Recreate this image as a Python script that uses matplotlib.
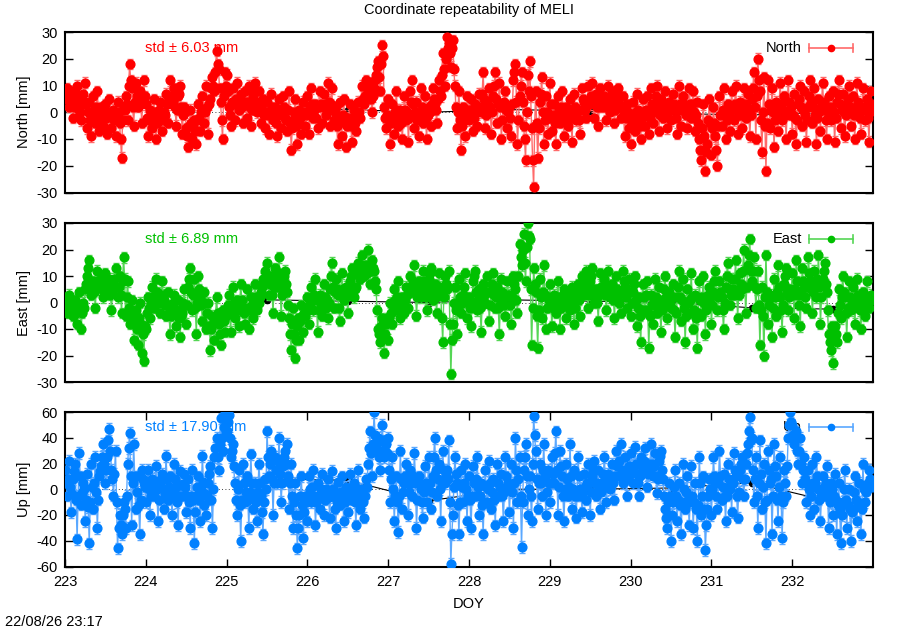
import numpy as np
import matplotlib
matplotlib.use("Agg")
import matplotlib.pyplot as plt

plt.rcParams['font.family'] = ['Liberation Sans', 'DejaVu Sans']

title = "Coordinate repeatability of MELI"
timestamp = "22/08/26 23:17"
doy_start = 223.0
epoch_step = 0.0125  # days between epochs (18 min)
doy_ticks = [223, 224, 225, 226, 227, 228, 229, 230, 231, 232]

north_mm = [
    # 223
    5, 7, 9, 5, 2, 4, 8, 3, -2, 2, 6, 7, 10, 5, 1, 0, -3, 3, 7, 4,
    11, 3, -6, 0, 4, -3, -9, -1, 6, 1, -4, 2, 8, 0, -7, -2, 2, -1, -5, 0,
    3, -2, -8, -1, 5, 0, -6, -2, 1, -3, -9, -1, 4, 0, -4, -10, -17, -3, 2, 1,
    6, 3, -3, 10, 18, 12, 9, 2, -5, 4, 11, 6, 2, 5, 8, 3, -4, 5, 12, 6,
    # 224
    3, -2, -9, -3, 1, -2, -6, 0, 5, -3, -10, -4, -2, 1, 4, -2, -7, -3, 0, -1,
    7, 3, -4, 5, 12, 6, 3, 4, 9, 2, -5, 1, 6, 7, 10, 2, -8, -1, 2, 0,
    -6, -9, -13, -5, 1, -4, -10, -5, -3, -7, -12, -3, 3, -2, -7, 0, 6, 1, -4, 0,
    10, 2, -8, 3, 5, 9, 13, 10, 8, 15, 23, 18, 16, 9, 4, -3, -10, 6, 15, 10,
    # 225
    14, 8, 2, -1, -5, 4, 9, 3, -3, 5, 11, 4, 1, 5, 7, 2, -4, 3, 8, 4,
    -2, 4, 10, 2, -5, 1, 6, 8, 11, 4, 0, 3, 8, 2, -4, 1, 5, -1, -6, 0,
    4, -1, -8, 0, 7, 2, -3, 0, 2, -4, -9, -1, 5, 0, -6, 1, 6, 2, -2, -3,
    -7, 1, 8, -4, -14, -6, -3, 0, 5, -5, -12, -4, 1, -2, -8, -1, 4, 0, -5, -1,
    # 226
    6, 0, -8, 2, 9, 3, -2, 1, 3, -2, -6, 2, 8, 3, -4, 2, 7, 3, -1, 1,
    11, 4, -5, 3, 9, 2, -3, 0, 2, -5, -12, -3, 4, -2, -9, -1, 5, -4, -13, -5,
    -4, -2, 3, -5, -11, -3, 1, -4, -7, -1, 4, 0, -2, 4, 10, 5, 3, 6, 12, 7,
    6, 8, 11, 5, 0, 6, 9, 12, 14, 17, 19, 13, 8, 18, 25, 21, 2, -2, -6, -1,
    # 227
    5, -3, -12, -4, 3, -2, -8, 0, 8, 1, -5, -1, 1, -4, -10, -2, 6, 1, -3, 0,
    -11, -2, 8, 4, 12, 3, -6, 0, 4, -3, -9, -1, 9, 2, -4, 1, 6, -2, -10, -1,
    2, 0, -5, 3, 9, 5, 3, 1, -4, 5, 12, 8, 6, 14, 22, 16, 10, 20, 28, 24,
    26, 22, 17, 24, 27, 16, 10, 2, -6, 0, 8, -3, -14, -5, 2, -3, -9, -1, 6, 1,
    # 228
    -3, 1, 5, -1, -7, -2, 3, 0, -5, 1, 7, 2, 0, 7, 15, 5, -6, -1, 4, 1,
    9, 2, -8, 0, 6, 10, 15, 5, -4, 3, 11, 2, -10, -3, 3, 4, 8, 1, -6, 0,
    2, -2, -9, 3, 12, 15, 18, 4, -12, -3, 6, 10, 15, 4, -5, -10, -18, 0, 14, 8,
    19, 6, -6, -18, -28, -5, 8, -4, -17, -6, 4, 7, 13, 0, -12, -3, 6, 0, -8, -2,
    # 229
    11, 3, -7, -1, 3, -4, -12, -2, 6, 1, -4, 2, 8, 0, -9, -2, 2, -1, -5, 0,
    5, -2, -11, -1, 7, 2, -3, 0, 1, -3, -8, 1, 9, 5, 4, 1, -2, 3, 10, 4,
    3, 6, 11, 4, -2, 3, 7, 2, -5, 2, 9, 5, 2, 4, 6, 2, -3, 3, 10, 5,
    0, 3, 8, 2, -4, 1, 5, 6, 9, 3, -2, 2, 6, 0, -9, -2, 3, 0, -6, -2,
    # 230
    -12, -4, 4, -2, -7, 0, 7, 1, -3, -5, -10, -2, 5, 0, -5, 1, 6, -1, -8, -2,
    9, 3, -4, 0, 3, 6, 10, 2, -7, -1, 5, 2, -2, 3, 8, 1, -6, 0, 4, 1,
    -3, 2, 7, 3, 1, -2, -8, 1, 10, 3, -5, 1, 6, 3, 2, -1, -6, 2, 9, 3,
    -2, 3, 8, 0, -7, -1, 4, -4, -10, -14, -18, -6, 3, -9, -22, -15, -12, -3, 5, -4,
    # 231
    -16, -6, 2, -4, -9, -14, -20, -5, 6, -1, -5, 1, 9, 0, -10, -3, 3, -1, -7, -2,
    8, 2, -3, 3, 10, 1, -8, -1, 4, -1, -6, 2, 9, 3, -2, 2, 7, 0, -9, -1,
    5, 9, 15, 2, -10, 6, 20, 12, 8, -3, -15, 0, 13, -5, -22, -4, 12, 3, -6, 1,
    9, 0, -13, -3, 4, -1, -7, 2, 11, 3, -3, 1, 6, -1, -10, 0, 12, 4, -1, 2,
    # 232
    -8, -1, 7, -2, -12, -3, 3, 5, 10, 2, -5, 1, 8, -1, -11, -3, 2, 6, 12, 4,
    -4, 2, 9, -1, -12, -2, 5, 0, -7, 2, 11, 4, 1, -3, -10, 0, 6, 2, -3, 1,
    8, 0, -11, -2, 4, 7, 12, 3, -6, 1, 7, 0, -9, -1, 3, 5, 10, 2, -5, 1,
    6, -1, -10, 2, 11, 4, 1, -2, -8, 1, 9, 2, -3, 1, 5, -2, -11, 0, 8, 3,
]

east_mm = [
    # 223
    2, -1, -4, 0, 3, 0, -2, -3, -5, -2, 1, -4, -8, -1, 4, -3, -10, -4, 0, -2,
    5, 7, 10, 13, 16, 8, 3, 5, 8, 4, -2, 5, 12, 8, 6, 7, 9, 5, 2, 6,
    11, 7, 4, 6, 9, 3, -3, 4, 7, 9, 13, 6, 2, 6, 10, 3, -4, 8, 17, 9,
    -5, 2, 8, -2, -8, -4, 1, -6, -14, -7, -3, -10, -16, -6, 0, -8, -19, -12, -22, -9,
    # 224
    -10, -4, 2, -2, -6, 0, 6, 2, -2, 3, 9, 4, 3, 0, -4, 2, 8, 3, 1, -1,
    -5, -1, 4, -4, -12, -5, -2, 0, 3, -4, -9, -3, 1, -6, -13, -5, -4, 0, 5, -1,
    -8, -1, 6, 9, 13, 4, -3, 3, 9, -2, -12, 0, 10, 5, 2, -1, -7, 0, 4, 0,
    -10, -4, 0, -9, -18, -10, -5, -8, -14, -6, 2, -4, -8, -12, -16, -7, -3, -7, -11, -5,
    # 225
    -4, -1, 3, -4, -11, -2, 6, 0, -6, -2, 1, -3, -9, -1, 7, 1, -2, -4, -8, -3,
    5, -2, -10, -3, 2, -1, -6, 1, 7, 2, -3, 0, 0, 2, 4, 6, 9, 7, 12, 8,
    15, 9, 3, 7, 10, 3, -4, 6, 13, 9, 6, 11, 17, 6, -5, 3, 8, 10, 12, 7,
    4, -1, -6, -12, -18, -8, -2, -12, -21, -14, -9, -6, -14, -7, -1, -5, -11, -4, -5, -2,
    # 226
    2, -3, -8, 0, 6, 2, -3, 3, 9, 1, -11, -3, 3, 0, -5, 1, 7, 2, -2, 1,
    -6, 0, 5, 10, 15, 6, -2, 4, 9, 5, 3, -2, -7, 3, 11, 5, 1, 4, 6, 3,
    -4, 3, 8, 10, 13, 6, 2, 5, 6, 11, 15, 12, 9, 14, 18, 12, 10, 12, 14, 11,
    20, 13, 7, 12, 16, 13, 12, 8, 5, -3, -10, -12, -15, -9, -6, -13, -19, -12, -8, -6,
    # 227
    -14, -6, 0, -4, -8, -1, 5, 1, -3, 2, 8, 1, -6, -1, 2, 0, -4, 1, 6, 3,
    -2, 4, 10, 6, 4, 8, 14, 5, -5, 2, 8, 4, 2, 7, 12, 8, 6, 2, -3, 3,
    9, 11, 13, 6, 1, 4, 7, 2, -4, 5, 11, 6, 3, -6, -15, 2, 10, 7, 5, 6,
    12, -8, -27, -14, -8, 0, 6, -3, -12, -2, 9, 2, -4, 0, 3, 6, 11, 2, -6, 0,
    # 228
    2, -2, -9, 0, 8, 10, 12, 4, -3, 1, 5, -2, -11, -1, 7, 3, 0, 4, 10, 4,
    -7, -1, 4, 7, 11, 3, -2, 2, 6, -2, -12, -1, 9, 4, 1, -1, -5, 2, 8, 3,
    3, -1, -8, 2, 10, 7, 5, 1, -4, 10, 22, 17, 14, 20, 26, 15, 8, 21, 30, 25,
    24, 5, -16, -2, 13, 7, 4, -5, -17, -3, 9, 2, -6, 4, 14, 3, -10, -2, 2, 1,
    # 229
    7, 0, -9, -2, 3, 0, -4, 2, 8, 1, -10, -2, 1, 3, 5, 0, -6, -1, 4, 1,
    -3, 1, 6, 0, -8, -2, 2, 4, 7, 1, -5, 3, 10, 5, 3, 7, 12, 4, -2, 3,
    8, 10, 13, 5, 0, 3, 5, 0, -7, 3, 11, 6, 4, 6, 9, 3, -3, 5, 12, 6,
    2, 4, 7, 1, -6, 3, 10, 5, 3, 0, -4, 4, 12, 8, 6, 2, -2, 4, 9, 4,
    # 230
    -5, 0, 4, 7, 10, 1, -9, -2, 2, -5, -15, -3, 7, 2, -3, 3, 8, -4, -17, -5,
    3, -1, -8, 1, 9, 2, -4, 1, 6, -2, -11, -3, 1, 5, 10, 2, -6, -1, 4, 0,
    -2, 2, 7, -3, -13, -4, 2, 6, 12, 2, -7, 1, 9, -2, -15, -5, 5, 0, -4, 1,
    11, 2, -10, -3, 3, -6, -17, -4, 8, 1, -5, 2, 10, 0, -12, -3, 1, 3, 6, 2,
    # 231
    -8, -1, 4, 8, 12, 3, -3, 2, 8, 4, 2, -3, -10, 0, 6, 10, 15, 5, -1, 3,
    9, 5, 3, 9, 16, 4, -6, 3, 11, 7, 5, 12, 20, 6, -4, 6, 14, 18, 24, 12,
    8, 12, 17, 6, -2, 5, 12, -1, -16, -3, 6, -5, -20, 2, 18, 4, -8, -1, 3, 2,
    -13, -2, 9, 2, -5, 4, 14, 6, 2, -3, -11, -1, 7, 10, 13, 4, -3, 2, 5, 4,
    # 232
    11, 3, -6, 5, 16, 8, 3, -1, -9, 4, 13, 8, 6, 2, -2, 6, 17, 11, 8, 5,
    -4, 4, 12, 6, 2, 9, 18, 6, -8, 2, 9, 12, 15, 7, 4, -3, -12, -15, -18, -9,
    -23, -14, -9, -12, -15, -4, 5, -1, -6, 2, 10, 4, 2, -4, -13, -2, 8, 2, -3, 0,
    6, 0, -8, -1, 9, 3, 1, -3, -10, -2, 4, 0, -5, 1, 8, 2, -2, 1, 3, 1,
]

up_mm = [
    # 223
    15, 5, -5, 8, 22, 2, -18, -4, 8, 14, 20, -8, -39, -5, 28, 10, -12, -3, 5, 0,
    -25, -8, 12, -14, -42, -10, 20, 2, -15, 5, 25, -2, -30, -8, 10, 14, 18, 25, 35, 20,
    5, 15, 25, 38, 47, 30, 15, 8, -5, 12, 30, -10, -46, -30, -20, -28, -35, -20, -10, -15,
    -30, -5, 20, 32, 44, 10, -28, 5, 35, 10, -15, -2, 10, -12, -35, -8, 15, 8, 5, 2,
    # 224
    -10, 2, 15, 0, -20, -5, 8, 2, -5, 5, 18, 0, -25, -8, 5, 8, 12, 0, -15, -3,
    26, 8, -8, 2, 10, -5, -20, 0, 20, 8, 2, -10, -28, -5, 14, 3, -5, 4, 12, 2,
    -18, -5, 8, -10, -30, -5, 15, -8, -42, -18, -5, 2, 10, -8, -25, 0, 26, 6, -12, -4,
    -20, -5, 5, 12, 18, -8, -30, 0, 25, 32, 40, 25, 15, 35, 55, 40, 30, 48, 60, 45,
    # 225
    45, 52, 58, 40, 25, 30, 35, 18, 5, -8, -20, 0, 15, -12, -40, -8, 20, 5, -10, -2,
    10, -8, -30, -2, 27, 5, -15, -4, 5, -10, -25, -2, 20, 5, -5, -18, -35, -10, 8, 0,
    45, 25, 10, 20, 30, 8, -20, 5, 25, 15, 5, 22, 40, 12, -10, 5, 18, 25, 30, 20,
    35, 10, -15, 5, 20, -5, -30, -10, 5, -20, -46, -30, -20, -5, 10, -12, -38, -18, -5, -10,
    # 226
    -25, -8, 10, 0, -10, 2, 15, -5, -28, -10, 5, -5, -15, 0, 12, -2, -20, -8, 0, -5,
    8, -6, -22, -5, 14, 0, -5, -15, -30, -10, 6, -3, -12, -2, 10, -8, -25, -10, 2, -5,
    -18, -5, 12, 0, -8, -2, 5, -10, -28, -8, 15, 0, -15, -6, 0, -10, -22, -5, 8, 2,
    20, 32, 45, 28, 10, 35, 60, 42, 30, 36, 40, 25, 15, 30, 50, 38, 25, 30, 35, 28,
    # 227
    40, 15, -10, 8, 25, 0, -25, -5, 10, -10, -33, -5, 30, 8, -15, -2, 5, 10, 20, 5,
    -20, -2, 15, 5, -5, 10, 28, 5, -30, -8, 10, 4, 0, -10, -22, -2, 18, 5, -10, 0,
    25, 5, -15, -2, 10, 25, 40, 15, -5, 8, 20, 0, -25, 5, 30, 15, 5, 10, 15, 8,
    38, -10, -58, -35, -20, 2, 25, 12, 5, -12, -35, -10, 15, 2, -10, 5, 20, 0, -25, -5,
    # 228
    10, -8, -30, -5, 18, 5, -5, 8, 25, 2, -20, -5, 5, -12, -35, -10, 15, 2, -10, 0,
    22, 5, -15, -2, 8, -8, -28, -5, 20, 5, -5, 2, 12, -5, -25, -2, 25, 10, 0, 5,
    -18, 0, 20, -2, -30, 5, 40, 15, -10, 8, 25, -5, -45, -10, 15, 25, 35, 10, -20, 0,
    10, -5, -25, 20, 57, 42, 30, 8, -15, 5, 20, 5, -5, 15, 35, 10, -20, -2, 15, 5,
    # 229
    -10, 5, 25, 12, 5, 28, 45, 15, -20, 2, 30, 18, 10, -5, -25, 0, 20, 8, -5, 2,
    35, 10, -15, 0, 15, -5, -22, -5, 25, 10, 0, -5, -18, -2, 12, 2, -8, 5, 20, 5,
    -20, -2, 10, 15, 22, 5, -5, 5, 15, 0, -15, -2, 5, 12, 25, 8, -10, 2, 12, 8,
    0, 8, 20, 5, -8, 10, 30, 18, 10, 22, 35, 15, 5, 12, 25, 10, -5, 8, 18, 12,
    # 230
    28, 15, 5, 18, 33, 20, 12, 5, -5, 10, 25, 18, 15, 22, 32, 15, 2, 12, 20, 14,
    35, 20, 10, 18, 28, 10, -3, 8, 22, 26, 30, 15, 8, -5, -15, -22, -30, -10, 5, -5,
    -40, -20, -10, 2, 15, -5, -25, -8, 5, -12, -35, -10, 20, 0, -15, -2, 10, -8, -28, -10,
    18, -5, -30, -10, 5, -15, -40, -12, 25, 5, -20, -5, 10, -15, -47, -28, -15, -5, 8, 0,
    # 231
    -20, 0, 25, 10, 5, -5, -15, 5, 30, 10, -8, 2, 12, -5, -25, -5, 20, 8, 0, 5,
    -18, 5, 28, 15, 10, -5, -22, -2, 15, 20, 25, 8, -5, 8, 20, 28, 35, 45, 56, 38,
    40, 15, -10, 8, 25, -5, -30, 5, 38, 12, -15, 2, 20, -10, -42, -8, 30, 15, 5, 8,
    -35, -5, 35, 18, 10, -8, -25, 2, 25, -5, -38, -10, 15, 5, -5, 18, 40, 50, 60, 52,
    # 232
    50, 42, 35, 40, 45, 30, 20, 30, 40, 20, 5, 15, 25, 8, -10, 5, 15, 0, -20, -5,
    20, 5, -15, 5, 25, 10, 0, -8, -25, -5, 10, 2, -5, 5, 18, 0, -30, -10, 5, 0,
    -20, -5, 12, -8, -35, -12, 5, -15, -42, -20, -10, 0, 15, -8, -30, -12, 0, -15, -40, -18,
    -15, -2, 10, -8, -25, -10, 5, -12, -35, -15, 20, 0, -10, -2, 0, 5, 15, 8, 5, 2,
]

north_sigma = 2.0
east_sigma = 2.0
up_sigma = 4.5

daily_doy = [225.5, 226.5, 227.5, 228.5, 229.5, 230.5, 231.5, 232.5]
north_daily = [0.5, 1.0, 0.0, 1.0, 0.5, -0.5, -1.0, 0.0]
east_daily = [1.0, 0.5, 0.0, 1.0, 0.5, 0.0, -2.0, -2.5]
up_daily = [8.0, 7.0, -9.0, 0.0, 0.0, 1.0, 5.0, -10.0]

panels = [
    dict(vals=north_mm, sigma=north_sigma, daily=north_daily, color="#ff0000", light="#ff6a6a",
         ylim=(-30, 30), yticks=[-30, -20, -10, 0, 10, 20, 30], ylabel="North [mm]", name="North",
         std="std \u00b1 6.03 mm", rect=[65, 32, 873, 192.5]),
    dict(vals=east_mm, sigma=east_sigma, daily=east_daily, color="#00c000", light="#55d655",
         ylim=(-30, 30), yticks=[-30, -20, -10, 0, 10, 20, 30], ylabel="East [mm]", name="East",
         std="std \u00b1 6.89 mm", rect=[65, 223, 873, 382]),
    dict(vals=up_mm, sigma=up_sigma, daily=up_daily, color="#0080ff", light="#5aa8ff",
         ylim=(-60, 60), yticks=[-60, -40, -20, 0, 20, 40, 60], ylabel="Up [mm]", name="Up",
         std="std \u00b1 17.90 mm", rect=[65, 412, 873, 566.5]),
]

W, H = 900, 630
fig = plt.figure(figsize=(W / 100, H / 100), dpi=100)
fs = 10.5

for k, p in enumerate(panels):
    x0, y0, x1, y1 = p["rect"]
    ax = fig.add_axes([x0 / W, 1 - y1 / H, (x1 - x0) / W, (y1 - y0) / H])
    vals = np.array(p["vals"], dtype=float)
    t = doy_start + epoch_step * np.arange(len(vals))

    ax.axhline(0, color="black", lw=0.6, ls=(0, (1, 3)), zorder=1)
    ax.plot(daily_doy, p["daily"], "-", color="black", lw=0.8, zorder=1.5)
    ax.plot(daily_doy, p["daily"], "o", color="black", ms=4.5, zorder=1.5)

    # legend (drawn beneath the data, as in the original)
    ax.text(0.912, 0.9, p["name"], transform=ax.transAxes, ha="right", va="center",
            fontsize=fs, color="black", zorder=1)
    ax.plot([0.921, 0.975], [0.9, 0.9], transform=ax.transAxes, color=p["light"], lw=1.2, zorder=1)
    for xc in (0.921, 0.975):
        ax.plot([xc, xc], [0.875, 0.925], transform=ax.transAxes, color=p["light"], lw=1.2, zorder=1)
    ax.plot([0.948], [0.9], "o", transform=ax.transAxes, color=p["color"], ms=4.5, zorder=1)

    ax.errorbar(t, vals, yerr=p["sigma"], fmt="none", ecolor=p["light"], elinewidth=1.0,
                capsize=2, capthick=1.0, zorder=2)
    ax.plot(t, vals, "-", color=p["light"], lw=1.0, zorder=2)
    ax.plot(t, vals, "o", color=p["color"], mec=p["color"], ms=6.3, zorder=3)

    ax.text(0.099, 0.9, p["std"], transform=ax.transAxes, ha="left", va="center",
            fontsize=fs, color=p["color"], zorder=4)

    ax.set_xlim(223, 233)
    ax.set_ylim(*p["ylim"])
    ax.set_yticks(p["yticks"])
    ax.set_yticklabels([str(v) for v in p["yticks"]], fontsize=fs)
    ax.set_ylabel(p["ylabel"], fontsize=fs, labelpad=4)
    ax.tick_params(axis="y", direction="in", length=6, width=1, right=True, pad=5)
    if k < 2:
        ax.tick_params(axis="x", bottom=False, labelbottom=False)
    else:
        ax.set_xticks(doy_ticks)
        ax.set_xticklabels([str(v) for v in doy_ticks], fontsize=fs)
        ax.tick_params(axis="x", direction="in", length=6, width=1, top=True, pad=6)
        ax.set_xlabel("DOY", fontsize=fs, labelpad=6)
    for s in ax.spines.values():
        s.set_linewidth(1.5)

fig.text(469 / W, 1 - 10 / H, title, ha="center", va="center", fontsize=fs)
fig.text(5 / W, 1 - 622 / H, timestamp, ha="left", va="center", fontsize=fs)

fig.savefig("out.png", dpi=100)
